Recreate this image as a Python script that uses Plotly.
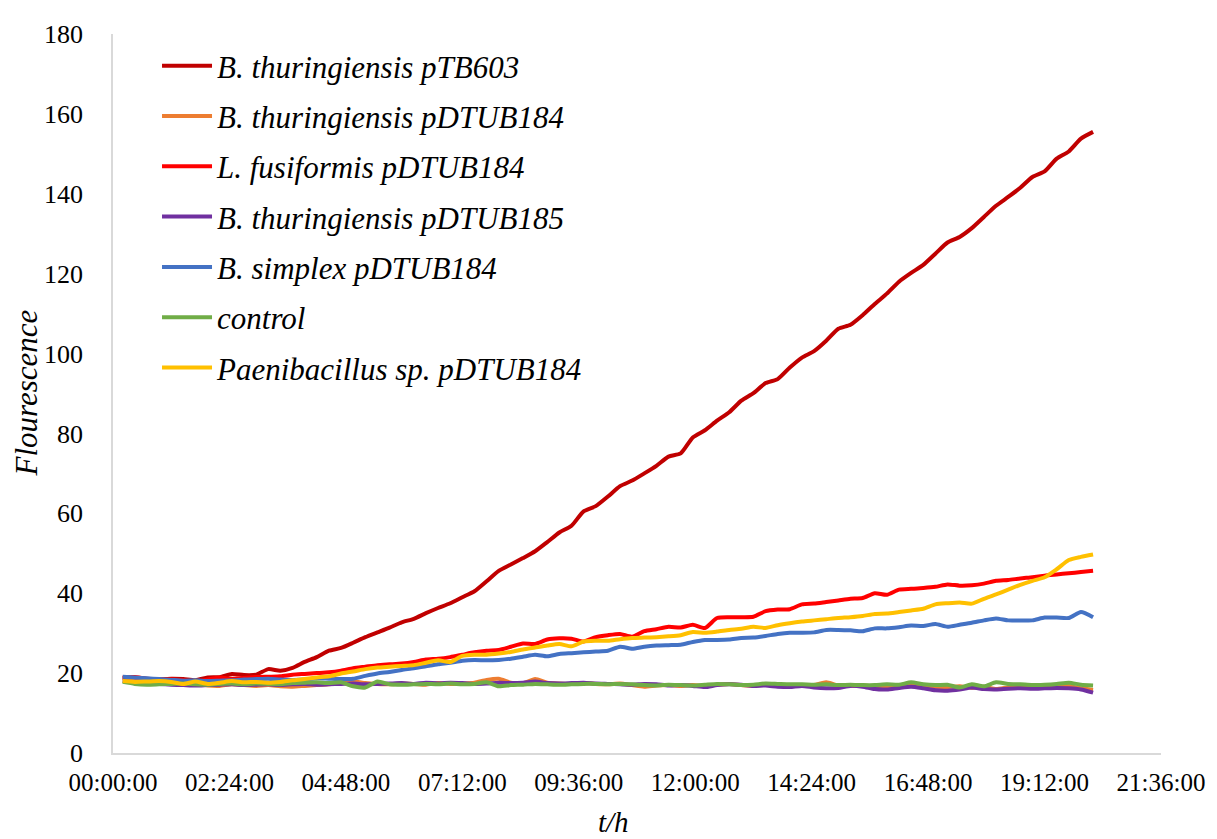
import plotly.graph_objects as go

time_h = [0.2, 0.45, 0.7, 0.95, 1.2, 1.45, 1.7, 1.95, 2.2, 2.45, 2.7, 2.95, 3.2, 3.45, 3.7, 3.95,
          4.2, 4.45, 4.7, 4.95, 5.2, 5.45, 5.7, 5.95, 6.2, 6.45, 6.7, 6.95, 7.2, 7.45, 7.7, 7.95,
          8.2, 8.45, 8.7, 8.95, 9.2, 9.45, 9.7, 9.95, 10.2, 10.45, 10.7, 10.95, 11.2, 11.45, 11.7, 11.95,
          12.2, 12.45, 12.7, 12.95, 13.2, 13.45, 13.7, 13.95, 14.2, 14.45, 14.7, 14.95, 15.2, 15.45, 15.7, 15.95,
          16.2, 16.45, 16.7, 16.95, 17.2, 17.45, 17.7, 17.95, 18.2, 18.45, 18.7, 18.95, 19.2, 19.45, 19.7, 19.95, 20.2]

bt_ptb603 = [18.8, 18.8, 18.5, 18.4, 18.6, 18.5, 18.2, 18.9, 19.0, 19.8, 19.5, 19.6, 21.0, 20.6, 21.3, 22.8,
             24.0, 25.6, 26.3, 27.6, 29.0, 30.2, 31.4, 32.7, 33.6, 35.0, 36.3, 37.5, 39.0, 40.5, 43.0, 45.6,
             47.2, 48.8, 50.5, 52.8, 55.2, 56.9, 60.5, 61.8, 64.2, 66.8, 68.2, 70.0, 71.9, 74.2, 75.0, 79.0,
             80.8, 83.2, 85.3, 88.2, 90.1, 92.6, 93.6, 96.5, 99.0, 100.6, 103.2, 106.2, 107.2, 109.6, 112.4, 115.0,
             118.0, 120.2, 122.2, 125.0, 127.8, 129.2, 131.4, 134.2, 137.0, 139.2, 141.5, 144.2, 145.6, 148.8, 150.6, 153.8, 155.5]

bt_pdtub184 = [18.6, 18.4, 18.0, 17.8, 17.6, 17.5, 17.3, 16.9, 16.8, 17.2, 17.0, 16.8, 17.0, 16.7, 16.6, 16.8,
               17.0, 17.2, 17.4, 17.9, 17.5, 17.3, 17.2, 17.4, 17.3, 17.1, 17.5, 17.3, 17.4, 17.6, 18.3, 18.6,
               17.6, 17.4, 18.5, 17.6, 17.4, 17.3, 17.5, 17.3, 17.2, 17.4, 17.0, 16.6, 16.9, 17.0, 16.8, 17.0,
               16.8, 17.1, 17.3, 17.0, 16.8, 17.1, 16.9, 17.0, 16.8, 17.0, 17.7, 16.9, 16.8, 16.9, 16.7, 16.8,
               16.6, 16.9, 16.8, 16.4, 16.5, 16.7, 16.3, 16.6, 16.0, 16.4, 16.6, 16.5, 16.7, 16.6, 16.8, 16.2, 15.8]

lf_pdtub184 = [18.9, 19.0, 18.6, 18.5, 18.4, 18.2, 17.8, 18.4, 18.9, 18.6, 18.8, 19.0, 19.1, 19.2, 19.6, 19.8,
               20.0, 20.2, 20.6, 21.2, 21.6, 22.0, 22.2, 22.4, 22.8, 23.4, 23.6, 24.0, 24.6, 25.2, 25.6, 25.8,
               26.6, 27.4, 27.3, 28.4, 28.7, 28.6, 27.9, 29.0, 29.5, 29.8, 29.1, 30.5, 31.0, 31.6, 31.4, 32.1,
               31.3, 33.8, 34.0, 34.0, 34.1, 35.5, 35.9, 36.0, 37.2, 37.4, 37.8, 38.2, 38.6, 38.8, 40.0, 39.6,
               40.9, 41.1, 41.3, 41.6, 42.2, 41.9, 42.0, 42.4, 43.1, 43.3, 43.7, 44.0, 44.4, 44.7, 45.0, 45.3, 45.6]

bt_pdtub185 = [18.0, 17.6, 17.4, 17.3, 17.1, 17.0, 16.9, 17.0, 17.1, 17.2, 17.0, 17.1, 17.2, 17.0, 17.2, 17.3,
               17.1, 17.2, 17.3, 17.4, 17.2, 17.3, 17.4, 17.5, 17.3, 17.6, 17.4, 17.6, 17.5, 17.3, 17.4, 17.6,
               17.5, 17.6, 17.9, 17.5, 17.4, 17.5, 17.6, 17.4, 17.3, 17.2, 17.1, 17.3, 17.2, 16.9, 17.0, 16.8,
               16.5, 17.0, 17.2, 17.1, 16.8, 16.9, 16.6, 16.5, 16.8, 16.4, 16.2, 16.3, 16.8, 16.6, 16.0, 15.9,
               16.3, 16.6, 16.2, 15.7, 15.6, 15.9, 16.4, 16.0, 15.9, 16.1, 16.2, 16.1, 16.2, 16.3, 16.2, 15.9, 15.1]

bs_pdtub184 = [19.1, 18.9, 18.7, 18.5, 18.3, 18.1, 18.2, 18.0, 18.1, 18.2, 18.4, 18.5, 18.6, 18.4, 18.3, 18.4,
               18.7, 18.6, 18.5, 18.6, 19.3, 19.9, 20.3, 20.8, 21.2, 21.7, 22.2, 22.6, 23.1, 23.3, 23.2, 23.3,
               23.6, 24.1, 24.6, 24.2, 24.8, 25.0, 25.2, 25.4, 25.6, 26.6, 26.1, 26.6, 26.9, 27.0, 27.1, 27.8,
               28.3, 28.3, 28.4, 28.8, 28.9, 29.3, 29.8, 30.1, 30.1, 30.2, 30.8, 30.8, 30.7, 30.5, 31.2, 31.2,
               31.5, 31.9, 31.8, 32.3, 31.6, 32.1, 32.6, 33.2, 33.7, 33.2, 33.2, 33.2, 33.9, 33.9, 33.8, 35.3, 34.0]

control = [17.8, 17.3, 17.1, 17.2, 17.3, 17.4, 17.2, 17.1, 17.3, 17.4, 17.2, 17.4, 17.3, 17.2, 17.5, 17.6,
           17.7, 17.5, 17.7, 16.7, 16.4, 17.9, 17.2, 17.1, 17.2, 17.3, 17.2, 17.4, 17.2, 17.3, 17.7, 16.7,
           17.0, 17.1, 17.3, 17.2, 17.1, 17.2, 17.3, 17.3, 17.2, 17.3, 17.2, 17.0, 16.9, 17.1, 17.0, 16.9,
           17.1, 17.3, 17.2, 17.0, 17.1, 17.4, 17.3, 17.2, 17.2, 17.1, 17.2, 17.0, 17.1, 17.0, 17.0, 17.2,
           17.1, 17.7, 17.2, 17.0, 17.1, 16.4, 17.2, 16.7, 17.7, 17.3, 17.2, 17.0, 17.1, 17.3, 17.6, 17.1, 16.9]

paeni_pdtub184 = [18.0, 17.8, 17.9, 18.0, 17.8, 17.3, 17.9, 17.3, 17.6, 18.0, 17.7, 17.8, 17.6, 17.8, 18.2, 18.5,
                  18.9, 19.2, 19.9, 20.4, 21.0, 21.4, 21.6, 21.8, 22.0, 22.6, 23.2, 22.8, 24.3, 24.6, 24.6, 24.9,
                  25.3, 25.9, 26.4, 26.9, 27.3, 26.7, 27.9, 28.1, 28.1, 28.5, 28.8, 28.9, 29.0, 29.2, 29.5, 30.3,
                  30.1, 30.4, 30.8, 31.1, 31.6, 31.3, 32.0, 32.5, 32.9, 33.2, 33.5, 33.8, 34.0, 34.3, 34.8, 34.9,
                  35.3, 35.7, 36.1, 37.2, 37.5, 37.7, 37.4, 38.6, 39.7, 40.9, 42.1, 43.1, 44.0, 46.0, 48.3, 49.1, 49.7]

series_names = ["B. thuringiensis pTB603", "B. thuringiensis pDTUB184", "L. fusiformis pDTUB184",
                "B. thuringiensis pDTUB185", "B. simplex pDTUB184", "control", "Paenibacillus sp. pDTUB184"]
series_values = [bt_ptb603, bt_pdtub184, lf_pdtub184, bt_pdtub185, bs_pdtub184, control, paeni_pdtub184]
series_colors = ["#C00000", "#ED7D31", "#FF0000", "#7030A0", "#4472C4", "#70AD47", "#FFC000"]

x_tickvals = [0, 2.4, 4.8, 7.2, 9.6, 12.0, 14.4, 16.8, 19.2, 21.6]
x_ticktext = ["00:00:00", "02:24:00", "04:48:00", "07:12:00", "09:36:00",
              "12:00:00", "14:24:00", "16:48:00", "19:12:00", "21:36:00"]
y_tickvals = [0, 20, 40, 60, 80, 100, 120, 140, 160, 180]

FONT = "Liberation Serif"

fig = go.Figure()
for i, (name, vals, col) in enumerate(zip(series_names, series_values, series_colors)):
    fig.add_trace(go.Scatter(
        x=time_h, y=vals, mode="lines", name=name, legendgroup=f"g{i}",
        line=dict(color=col, width=4, shape="spline", smoothing=0.6),
    ))

# the page body adds an 8px margin, so the figure is 8px smaller and the top/left margins compensate
fig.update_layout(
    width=1209, height=831,
    paper_bgcolor="white", plot_bgcolor="white",
    margin=dict(l=105, r=49, t=20, b=86),
    font=dict(family=FONT, color="#000000"),
    showlegend=True,
    legend=dict(
        x=0.042, y=0.993, xanchor="left", yanchor="top",
        font=dict(family=FONT, size=31, style="italic", color="#000000"),
        bgcolor="rgba(0,0,0,0)", tracegroupgap=7, itemwidth=50,
    ),
    xaxis=dict(
        range=[0, 21.6], tickvals=x_tickvals, ticktext=x_ticktext,
        showgrid=False, zeroline=False, showline=True, linecolor="#D9D9D9", linewidth=1.5,
        ticks="", tickfont=dict(family=FONT, size=25, color="#000000"), ticklabelstandoff=6,
        ticklabeloverflow="allow",
    ),
    yaxis=dict(
        range=[0, 180], tickvals=y_tickvals,
        showgrid=False, zeroline=False, showline=True, linecolor="#D9D9D9", linewidth=1.5,
        ticks="", tickfont=dict(family=FONT, size=26, color="#000000"), ticklabelstandoff=23,
    ),
    annotations=[
        dict(text="t/h", xref="paper", yref="paper", x=0.478, y=-0.096, xanchor="center", yanchor="middle",
             showarrow=False, font=dict(family=FONT, size=29, style="italic", color="#000000")),
        dict(text="Flourescence", xref="paper", yref="paper", x=-0.083, y=0.5, xanchor="center", yanchor="middle",
             textangle=-90, showarrow=False, font=dict(family=FONT, size=31, style="italic", color="#000000")),
    ],
)

fig.write_html("out.html")
